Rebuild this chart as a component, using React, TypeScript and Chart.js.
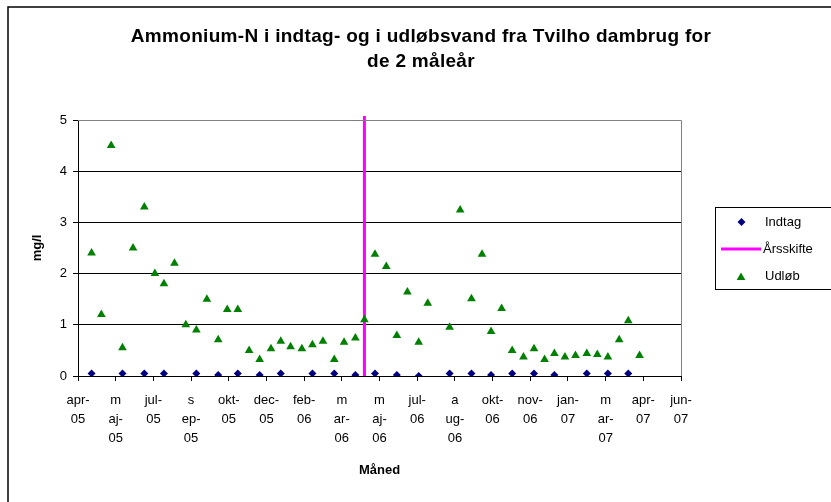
import React, { useEffect, useRef } from 'react';
import { Chart, registerables } from 'chart.js';

Chart.register(...registerables);

// X positions are days counted from the first axis tick (apr-05); ticks every 50 days.
const tickLabels: string[][] = [
  ['apr-', '05'], ['m', 'aj-', '05'], ['jul-', '05'], ['s', 'ep-', '05'], ['okt-', '05'],
  ['dec-', '05'], ['feb-', '06'], ['m', 'ar-', '06'], ['m', 'aj-', '06'], ['jul-', '06'],
  ['a', 'ug-', '06'], ['okt-', '06'], ['nov-', '06'], ['jan-', '07'], ['m', 'ar-', '07'],
  ['apr-', '07'], ['jun-', '07'],
];

const udlobDay = [
  18, 31, 44, 59, 73, 88, 102, 114, 128, 143, 157, 171, 186, 198, 212, 227, 241, 256,
  269, 282, 297, 311, 325, 340, 353, 368, 380, 394, 409, 423, 437, 452, 464, 493, 507,
  522, 536, 548, 562, 576, 591, 605, 619, 632, 646, 660, 675, 689, 703, 718, 730, 745,
];
const udlobValues = [
  2.4, 1.2, 4.5, 0.55, 2.5, 3.3, 2.0, 1.8, 2.2, 1.0, 0.9, 1.5, 0.71, 1.3, 1.3, 0.5, 0.32, 0.53,
  0.68, 0.57, 0.53, 0.61, 0.68, 0.32, 0.66, 0.74, 1.1, 2.38, 2.14, 0.79, 1.64, 0.66, 1.42, 0.95, 3.24,
  1.51, 2.38, 0.87, 1.32, 0.5, 0.37, 0.53, 0.32, 0.44, 0.37, 0.4, 0.44, 0.42, 0.37, 0.71, 1.08, 0.4,
];

const indtagDay = [
  18, 59, 88, 114, 157, 186, 212, 241, 269, 311, 340, 368, 394, 423, 452, 493, 522, 548,
  576, 605, 632, 675, 703, 730,
];
const indtagValues = [
  0.05, 0.05, 0.05, 0.05, 0.05, 0.02, 0.05, 0.02, 0.05, 0.05, 0.05, 0.02, 0.05, 0.02, 0.0, 0.05,
  0.05, 0.02, 0.05, 0.05, 0.02, 0.05, 0.05, 0.05,
];

const aarsskifteDay = [380, 380];
const aarsskifteValues = [0, 5.08];

const titleLines = ['Ammonium-N i indtag- og i udløbsvand fra Tvilho dambrug for', 'de 2 måleår'];
const legendNames = ['Indtag', 'Årsskifte', 'Udløb'];

const FONT = '"Liberation Sans", Arial, sans-serif';
const NAVY = '#000080';
const GREEN = '#008000';
const MAGENTA = '#FF00FF';

function diamond(ctx: CanvasRenderingContext2D, x: number, y: number, r: number) {
  ctx.beginPath();
  ctx.moveTo(x, y - r);
  ctx.lineTo(x + r, y);
  ctx.lineTo(x, y + r);
  ctx.lineTo(x - r, y);
  ctx.closePath();
  ctx.fill();
}
function triangle(ctx: CanvasRenderingContext2D, x: number, y: number, r: number) {
  ctx.beginPath();
  ctx.moveTo(x, y - r);
  ctx.lineTo(x + r * 0.866, y + r * 0.5);
  ctx.lineTo(x - r * 0.866, y + r * 0.5);
  ctx.closePath();
  ctx.fill();
}

const decorPlugin = {
  id: 'decor',
  beforeDraw(chart: any) {
    const ctx = chart.ctx as CanvasRenderingContext2D;
    ctx.save();
    ctx.fillStyle = '#fff';
    ctx.fillRect(0, 0, chart.width, chart.height);
    // outer chart border (continues past right/bottom edges)
    ctx.strokeStyle = '#000';
    ctx.lineWidth = 1.5;
    ctx.strokeRect(8, 7, 1000, 1000);
    ctx.restore();
  },
  afterDraw(chart: any) {
    const ctx = chart.ctx as CanvasRenderingContext2D;
    const a = chart.chartArea;
    ctx.save();
    // plot area top/right border
    ctx.strokeStyle = '#808080';
    ctx.lineWidth = 1;
    ctx.beginPath();
    ctx.moveTo(a.left, Math.round(a.top) + 0.5);
    ctx.lineTo(Math.round(a.right) + 0.5, Math.round(a.top) + 0.5);
    ctx.lineTo(Math.round(a.right) + 0.5, a.bottom);
    ctx.stroke();

    // title
    ctx.fillStyle = '#000';
    ctx.font = `bold 19px ${FONT}`;
    ctx.textAlign = 'center';
    ctx.textBaseline = 'middle';
    (ctx as any).letterSpacing = '0.3px';
    ctx.fillText(titleLines[0], 421, 37);
    ctx.fillText(titleLines[1], 421, 62);
    (ctx as any).letterSpacing = '0px';

    // legend
    ctx.strokeStyle = '#000';
    ctx.lineWidth = 1;
    ctx.strokeRect(715.5, 207.5, 200, 82);
    ctx.font = `13px ${FONT}`;
    ctx.textAlign = 'left';
    ctx.fillStyle = NAVY;
    diamond(ctx, 741.5, 222, 4);
    ctx.strokeStyle = MAGENTA;
    ctx.lineWidth = 3;
    ctx.beginPath();
    ctx.moveTo(721, 249);
    ctx.lineTo(761, 249);
    ctx.stroke();
    ctx.fillStyle = GREEN;
    triangle(ctx, 741, 277.5, 5);
    ctx.fillStyle = '#000';
    ctx.fillText(legendNames[0], 765, 222);
    ctx.fillText(legendNames[1], 763, 249);
    ctx.fillText(legendNames[2], 765, 276);
    ctx.restore();
  },
};

export default function App() {
  const ref = useRef<HTMLCanvasElement>(null);
  useEffect(() => {
    document.body.style.margin = '0';
    const canvas = ref.current!;
    const chart = new Chart(canvas, {
      type: 'scatter',
      data: {
        datasets: [
          {
            label: legendNames[2],
            data: udlobDay.map((d, i) => ({ x: d, y: udlobValues[i] })),
            pointStyle: 'triangle',
            pointRadius: 5,
            backgroundColor: GREEN,
            borderColor: GREEN,
            borderWidth: 0,
            order: 0,
          },
          {
            label: legendNames[1],
            type: 'line',
            data: aarsskifteDay.map((d, i) => ({ x: d, y: aarsskifteValues[i] })),
            borderColor: MAGENTA,
            borderWidth: 3,
            pointRadius: 0,
            showLine: true,
            fill: false,
            clip: false as any,
            order: 1,
          },
          {
            label: legendNames[0],
            data: indtagDay.map((d, i) => ({ x: d, y: indtagValues[i] })),
            pointStyle: 'rectRot',
            pointRadius: 4,
            backgroundColor: NAVY,
            borderColor: NAVY,
            borderWidth: 0,
            order: 2,
          },
        ],
      },
      options: {
        responsive: false,
        animation: false,
        devicePixelRatio: 1,
        layout: { padding: { top: 120, right: 150, left: 0, bottom: 0 } },
        plugins: {
          legend: { display: false },
          title: { display: false },
          tooltip: { enabled: false },
        },
        scales: {
          x: {
            type: 'linear',
            min: 0,
            max: 800,
            afterFit: (s: any) => { s.height = 126; },
            ticks: {
              stepSize: 50,
              autoSkip: false,
              maxRotation: 0,
              minRotation: 0,
              padding: 10,
              color: '#000',
              font: { family: FONT, size: 13, lineHeight: 1.46 },
              callback: (v: any) => tickLabels[Math.round(Number(v) / 50)] ?? '',
            },
            grid: { drawOnChartArea: false, drawTicks: true, tickLength: 5, color: '#000' },
            border: { color: '#000', width: 1 },
            title: {
              display: true,
              text: 'Måned',
              color: '#000',
              font: { family: FONT, size: 13, weight: 'bold' },
              padding: { top: 0, bottom: 24 },
            },
          },
          y: {
            min: 0,
            max: 5,
            afterFit: (s: any) => { s.width = 78; },
            ticks: {
              stepSize: 1,
              padding: 6,
              color: '#000',
              font: { family: FONT, size: 13 },
            },
            grid: {
              color: (c: any) => (c.tick && c.tick.value === 5 ? '#808080' : '#000'),
              tickColor: '#000',
              tickLength: 5,
            },
            border: { color: '#000', width: 1 },
            title: {
              display: true,
              text: 'mg/l',
              color: '#000',
              font: { family: FONT, size: 13, weight: 'bold' },
              padding: { top: 30, bottom: 0 },
            },
          },
        },
      },
      plugins: [decorPlugin],
    });
    return () => chart.destroy();
  }, []);
  return (
    <div style={{ position: 'absolute', left: 0, top: 0, width: 831, height: 502 }}>
      <canvas ref={ref} width={831} height={502} />
    </div>
  );
}
